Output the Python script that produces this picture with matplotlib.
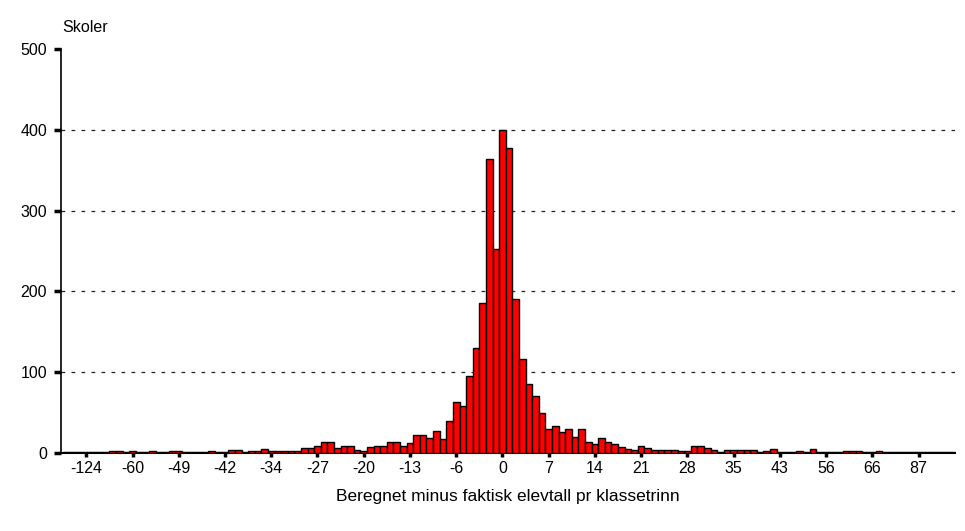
import matplotlib.pyplot as plt
import numpy as np

plt.rcParams['font.family'] = ['Liberation Sans', 'DejaVu Sans']

# antall skoler pr kategori (135 kategorier)
counts = [1, 1, 1, 1, 1, 1, 1, 3, 3, 1,
          3, 1, 1, 3, 1, 1, 3, 3, 1, 1,
          1, 1, 3, 1, 1, 4, 4, 1, 3, 3,
          5, 3, 3, 3, 3, 3, 6, 6, 9, 13,
          13, 6, 9, 9, 4, 3, 8, 9, 9, 14,
          14, 9, 12, 22, 22, 18, 27, 17, 40, 63,
          58, 95, 130, 186, 364, 253, 400, 378, 191, 116,
          85, 70, 50, 30, 33, 26, 30, 20, 30, 13,
          11, 19, 13, 11, 8, 5, 4, 9, 6, 4,
          4, 4, 4, 3, 2, 9, 9, 6, 4, 1,
          4, 4, 4, 4, 4, 1, 3, 5, 1, 1,
          1, 3, 1, 5, 1, 1, 1, 1, 3, 3,
          3, 1, 1, 3, 1, 1, 1, 1, 1, 1,
          1, 1, 1, 1, 1]

tick_labels = ['-124', '-60', '-49', '-42', '-34', '-27', '-20', '-13', '-6', '0',
               '7', '14', '21', '28', '35', '43', '56', '66', '87']
tick_pos = [3 + 7 * i for i in range(len(tick_labels))]

fig = plt.figure(figsize=(9.65, 5.31), dpi=100)
ax = fig.add_axes([0.0632, 0.1469, 0.9264, 0.7608])

x = np.arange(len(counts))
ax.bar(x, counts, width=1.0, color='#ff0000', edgecolor='black', linewidth=1.0, zorder=3)

ax.set_xlim(-0.83, 134.5)
ax.set_ylim(0, 500)
ax.set_yticks([0, 100, 200, 300, 400, 500])
ax.set_xticks(tick_pos)
ax.set_xticklabels(tick_labels)

for yv in [100, 200, 300, 400]:
    ax.axhline(yv, color='#222222', linestyle=(0, (3, 5)), linewidth=0.9, zorder=1)

ax.spines['top'].set_visible(False)
ax.spines['right'].set_visible(False)
ax.spines['left'].set_linewidth(1.2)
ax.spines['bottom'].set_linewidth(1.5)
ax.tick_params(axis='x', length=3, width=2.5, pad=3, labelsize=11.5)
ax.tick_params(axis='y', length=5, width=2.5, pad=5, labelsize=11.5)

fig.text(62 / 965, 1 - 28 / 531, 'Skoler', ha='left', va='center', fontsize=11.5)
fig.text(508 / 965, 1 - 497 / 531, 'Beregnet minus faktisk elevtall pr klassetrinn',
         ha='center', va='center', fontsize=12.5)

fig.savefig('out.png', dpi=100)
